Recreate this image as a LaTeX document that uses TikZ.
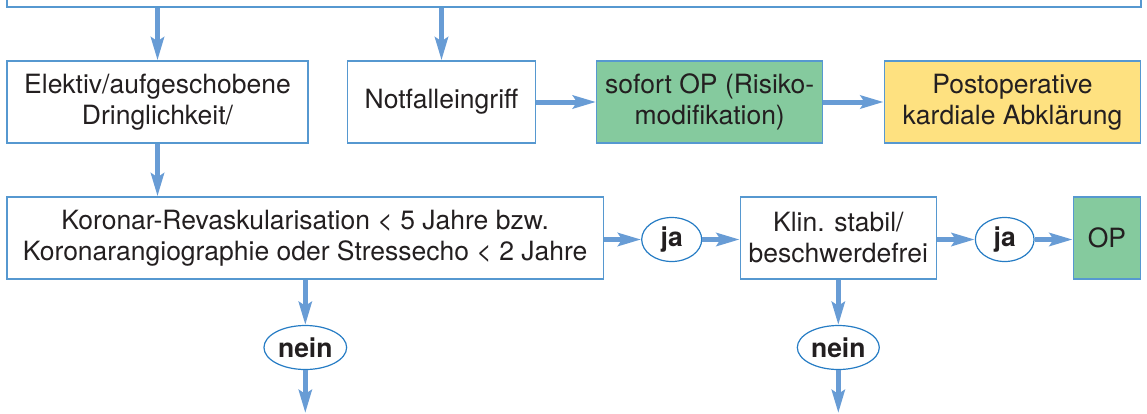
\documentclass[tikz,border=0pt]{standalone}
\usepackage{fontspec}
\setmainfont{TeX Gyre Heros}
\usetikzlibrary{arrows.meta,shapes.geometric}
\definecolor{pfeilblau}{RGB}{104,156,213}
\definecolor{randblau}{RGB}{86,152,208}
\definecolor{ovalblau}{RGB}{38,124,196}
\definecolor{gruen}{RGB}{133,202,158}
\definecolor{gelb}{RGB}{254,225,128}
\definecolor{schrift}{RGB}{35,31,32}

\begin{document}
\begin{tikzpicture}
[x=1pt, y=-1pt,
box/.style={draw=randblau, line width=1.4pt, inner sep=0pt, align=center, minimum height=82pt, text=schrift, font=\fontsize{26.5}{31}\selectfont},
boxg/.style={box, fill=gruen},
boxy/.style={box, fill=gelb},
oval/.style={ellipse, draw=ovalblau, line width=1.2pt, inner sep=0pt, minimum height=44pt, text=schrift, font=\fontsize{26.5}{31}\selectfont\bfseries},
pfeil/.style={draw=pfeilblau, line width=5pt, -{Stealth[length=23pt,width=13pt,inset=4pt]}}]
\useasboundingbox (0,0) rectangle (1147,413);

% obere Zeile
\node[box, minimum width=1133.7pt, minimum height=60pt] (kopf) at (574,-23) {};
\node[box, minimum width=301pt] (elektiv) at (157.5,102) {Elektiv/aufgeschobene\\Dringlichkeit/};
\node[box, minimum width=188.4pt] (notfall) at (441.5,102) {Notfalleingriff};
\node[boxg, minimum width=226pt] (sofort) at (709.7,102) {sofort OP (Risiko-\\modifikation)};
\node[boxy, minimum width=256.4pt] (postop) at (1012.5,102) {Postoperative\\kardiale Abklärung};

% untere Zeile
\node[box, minimum width=596.3pt] (koronar) at (305.2,238) {Koronar-Revaskularisation < 5 Jahre bzw.\\Koronarangiographie oder Stressecho < 2 Jahre};
\node[oval, minimum width=60pt] (ja1) at (671.7,239.5) {ja};
\node[box, minimum width=196pt] (klin) at (838.3,238) {Klin. stabil/\\beschwerdefrei};
\node[oval, minimum width=58.7pt] (ja2) at (1004.7,239.5) {ja};
\node[boxg, minimum width=67.4pt] (op) at (1107,238) {OP};
\node[oval, minimum width=82.7pt] (nein1) at (305.3,347.5) {nein};
\node[oval, minimum width=82pt] (nein2) at (838.3,347.5) {nein};
\coordinate (unten) at (0,413);

\draw[pfeil] (elektiv.north |- kopf.south) -- (elektiv.north);
\draw[pfeil] (notfall.north |- kopf.south) -- (notfall.north);
\draw[pfeil] (notfall) -- (sofort);
\draw[pfeil] (sofort) -- (postop);
\draw[pfeil] (elektiv.south) -- (elektiv.south |- koronar.north);

\draw[pfeil] (koronar.east |- ja1) -- (ja1);
\draw[pfeil] (ja1) -- (klin.west |- ja1);
\draw[pfeil] (klin.east |- ja2) -- (ja2);
\draw[pfeil] (ja2) -- (op.west |- ja2);
\draw[pfeil] (nein1.north |- koronar.south) -- (nein1);
\draw[pfeil] (nein1) -- (nein1.south |- unten);
\draw[pfeil] (klin) -- (nein2);
\draw[pfeil] (nein2) -- (nein2.south |- unten);
\end{tikzpicture}
\end{document}
